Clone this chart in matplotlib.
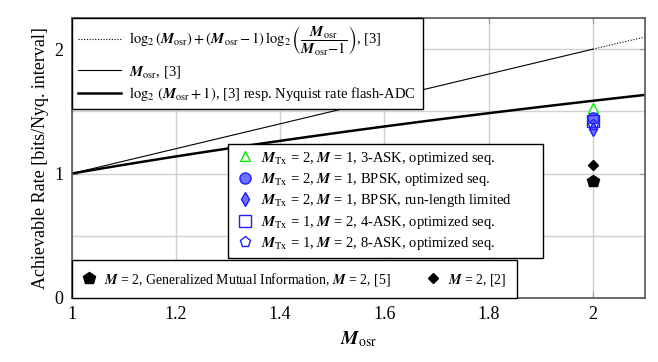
import numpy as np
import matplotlib
matplotlib.use("Agg")
import matplotlib.pyplot as plt

plt.rcParams['font.family'] = 'Liberation Serif'
plt.rcParams['mathtext.fontset'] = 'stix'

# Data
M_THIN = [1.0, 2.0]                 # M_osr line, [3]
M_DOT = [2.0, 2.1]                  # bound beyond M_osr = 2
M_THICK = [1.0, 2.1]                # log2(M_osr + 1)
X_PT = 2.0
Y_3ASK = 1.53
Y_BPSK_OPT = 1.45
Y_BPSK_RLL = 1.36
Y_4ASK = 1.42
Y_8ASK = 1.39
Y_GMI = 0.94
Y_REF2 = 1.07

MO = r'\boldsymbol{M}_{\mathrm{osr}}'
MTX = r'\boldsymbol{M}_{\mathrm{Tx}}'
MM = r'\boldsymbol{M}'

x_dot = np.linspace(M_DOT[0], M_DOT[1], 30)
y_dot = np.log2(x_dot) + (x_dot - 1) * np.log2(x_dot / (x_dot - 1))
x_thin = np.array(M_THIN)
x_thick = np.linspace(M_THICK[0], M_THICK[1], 50)

fig = plt.figure(figsize=(6.58, 3.62), dpi=100)
ax = fig.add_axes([0.109, 0.177, 0.871, 0.773])

l1, = ax.plot(x_dot, y_dot, color='black', lw=0.8, linestyle=(0, (1, 1.5)),
              label=r'$\log_2(' + MO + r') + (' + MO + r' - 1)\,\log_2\left(\dfrac{' + MO + r'}{' + MO + r'\!-\!1}\right)$, [3]')
l2, = ax.plot(x_thin, x_thin, color='black', lw=0.8, label=r'$' + MO + r'$, [3]')
l3, = ax.plot(x_thick, np.log2(x_thick + 1), color='black', lw=1.8,
              label=r'$\log_2\,(' + MO + r' + 1)$, [3] resp. Nyquist rate flash-ADC')

m1, = ax.plot([X_PT], [Y_3ASK], '^', ms=7, mfc='white', mec='#00ee00', mew=1, ls='none',
              label=r'$' + MTX + r'$ = 2, $' + MM + r'$ = 1, 3-ASK, optimized seq.')
m2, = ax.plot([X_PT], [Y_BPSK_OPT], 'o', ms=8, mfc='#7070ff', mec='#2020ff', mew=1, ls='none',
              label=r'$' + MTX + r'$ = 2, $' + MM + r'$ = 1, BPSK, optimized seq.')
m3, = ax.plot([X_PT], [Y_BPSK_RLL], 'd', ms=7, mfc='#7070ff', mec='#2020ff', mew=1, ls='none',
              label=r'$' + MTX + r'$ = 2, $' + MM + r'$ = 1, BPSK, run-length limited')
m4, = ax.plot([X_PT], [Y_4ASK], 's', ms=8, mfc='none', mec='#2020ff', mew=1, ls='none',
              label=r'$' + MTX + r'$ = 1, $' + MM + r'$ = 2, 4-ASK, optimized seq.')
m5, = ax.plot([X_PT], [Y_8ASK], 'p', ms=8, mfc='none', mec='#2020ff', mew=1, ls='none',
              label=r'$' + MTX + r'$ = 1, $' + MM + r'$ = 2, 8-ASK, optimized seq.')
k1, = ax.plot([X_PT], [Y_GMI], 'p', ms=9, color='black', ls='none',
              label=r'$' + MM + r'$ = 2, Generalized Mutual Information, $' + MM + r'$ = 2, [5]')
k2, = ax.plot([X_PT], [Y_REF2], 'D', ms=5.5, color='black', ls='none',
              label=r'$' + MM + r'$ = 2, [2]')

ax.set_xlim(1, 2.1)
ax.set_ylim(0, 2.25)
ax.set_xticks([1, 1.2, 1.4, 1.6, 1.8, 2])
ax.set_xticklabels(['1', '1.2', '1.4', '1.6', '1.8', '2'])
ax.set_yticks([0, 1, 2])
ax.set_yticks([0.5, 1.5], minor=True)
ax.grid(True, which='both', color='#d0d0d0', lw=1)
ax.set_axisbelow(True)
ax.tick_params(direction='in', length=4, color='#999999', labelsize=13, pad=6)
ax.tick_params(which='minor', length=0)
ax.tick_params(top=True, right=True)
for s in ax.spines.values():
    s.set_color('#555555')
    s.set_linewidth(1.2)
ax.set_xlabel(r'$' + MO + r'$', fontsize=14)
ax.set_ylabel('Achievable Rate [bits/Nyq. interval]', fontsize=13)

kw = dict(fancybox=False, framealpha=1, edgecolor='black', borderaxespad=0)
leg1 = ax.legend(handles=[l1, l2, l3], loc='upper left', bbox_to_anchor=(0, 1),
                 fontsize=10.5, handlelength=2.9, handletextpad=0.6,
                 labelspacing=0.35, borderpad=0.45, **kw)
leg1.get_frame().set_linewidth(1.0)
ax.add_artist(leg1)
leg2 = ax.legend(handles=[m1, m2, m3, m4, m5], loc='lower left', mode='expand',
                 bbox_to_anchor=(0.272, 0.143, 0.55, 0.1), fontsize=10.5,
                 handlelength=1.6, handletextpad=0.3, labelspacing=0.3,
                 borderpad=0.4, **kw)
leg2.get_frame().set_linewidth(1.0)
ax.add_artist(leg2)
leg3 = ax.legend(handles=[k1, k2], loc='lower left', bbox_to_anchor=(0, 0),
                 fontsize=10, ncol=2, handlelength=1.0, handletextpad=0.6,
                 columnspacing=2.5, borderpad=0.75, **kw)
leg3.get_frame().set_linewidth(1.0)

fig.savefig('out.png', dpi=100)
